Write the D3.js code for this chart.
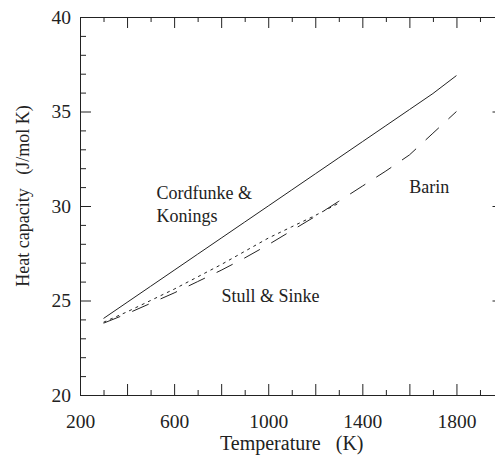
<!DOCTYPE html>
<html>
<head>
<meta charset="utf-8">
<script src="https://cdn.jsdelivr.net/npm/d3@7"></script>
<style>
  body { margin: 0; background: #fff; }
  .line { fill: none; stroke: #222; stroke-width: 1; }
  .axis path, .axis line { stroke: #222; stroke-width: 1; }
</style>
</head>
<body>
<div id="chartContainer"></div>
<script>
var width = 495;
var height = 463;
var serif = '"Liberation Serif", "Times New Roman", Times, "DejaVu Serif", serif';

// heat capacity (J/mol K) vs temperature (K)
var temps = [300, 400, 500, 600, 700, 800, 900, 1000, 1100, 1200, 1300, 1400, 1500, 1600, 1700, 1800];
var cordfunke = [24.05, 24.9, 25.75, 26.6, 27.45, 28.3, 29.15, 30.0, 30.85, 31.7, 32.55, 33.4, 34.25, 35.1, 35.95, 36.9];
var barin = [23.8, 24.3, 24.85, 25.4, 26.0, 26.6, 27.25, 27.95, 28.7, 29.45, 30.25, 31.05, 31.85, 32.7, 33.85, 35.0];
var stullTemps = [300, 400, 500, 600, 700, 800, 900, 1000, 1100, 1200, 1300];
var stull = [23.85, 24.4, 25.0, 25.6, 26.25, 26.9, 27.6, 28.3, 28.9, 29.5, 30.15];

var xTicks = d3.range(200, 2001, 100);
var yTicks = d3.range(20, 40.5, 1);

var svg = d3.select('#chartContainer')
    .append('svg')
    .attr("width", width)
    .attr("height", height)
    .attr("font-family", serif);

// plot box runs a bit past the right edge of the picture
var xScale = d3.scaleLinear().domain([200, 2000]).range([80, 503.5]);
var yScale = d3.scaleLinear().domain([20, 40]).range([395, 17]);

function isMajorX(t) { return t % 200 == 0; }
function isMajorY(v) { return v % 5 == 0; }

/*** axes, ticks point into the box ***/
var xAxisBottom = d3.axisBottom(xScale).tickValues(xTicks).tickSizeInner(-11).tickSizeOuter(0).tickPadding(19)
    .tickFormat(function(d) { return (d - 200) % 400 == 0 && d < 2000 ? d : ""; });
var xAxisTop = d3.axisTop(xScale).tickValues(xTicks).tickSizeInner(-11).tickSizeOuter(0).tickFormat("");
var yAxisLeft = d3.axisLeft(yScale).tickValues(yTicks).tickSizeInner(-11).tickSizeOuter(0).tickPadding(9)
    .tickFormat(function(d) { return isMajorY(d) ? d : ""; });
var yAxisRight = d3.axisRight(yScale).tickValues(yTicks).tickSizeInner(-11).tickSizeOuter(0).tickFormat("");

var gBottom = svg.append('g').attr('class', 'axis').attr("transform", "translate(0," + yScale(20) + ")").call(xAxisBottom);
var gTop = svg.append('g').attr('class', 'axis').attr("transform", "translate(0," + yScale(40) + ")").call(xAxisTop);
var gLeft = svg.append('g').attr('class', 'axis').attr("transform", "translate(" + xScale(200) + ",0)").call(yAxisLeft);
var gRight = svg.append('g').attr('class', 'axis').attr("transform", "translate(" + xScale(2000) + ",0)").call(yAxisRight);

// d3 axis sets its own font, put the serif one back
svg.selectAll('.axis').attr('font-family', serif).attr('font-size', 19.5);
svg.selectAll('.axis text').attr('fill', '#222');

// shorten the minor ticks
gBottom.selectAll('.tick line').attr('y2', function(d) { return isMajorX(d) ? -11 : -5; });
gTop.selectAll('.tick line').attr('y2', function(d) { return isMajorX(d) ? 11 : 5; });
gLeft.selectAll('.tick line').attr('x2', function(d) { return isMajorY(d) ? 11 : 6; });
gRight.selectAll('.tick line').attr('x2', function(d) { return isMajorY(d) ? -11 : -6; });

/*** curves ***/
var lineFunc = d3.line()
    .x(function(d) { return xScale(d[0]); })
    .y(function(d) { return yScale(d[1]); });

var g = svg.append('g').classed('curves', true);
g.append('path').attr('class', 'line').attr('d', lineFunc(d3.zip(temps, cordfunke)));
g.append('path').attr('class', 'line').attr('d', lineFunc(d3.zip(temps, barin)))
    .attr('stroke-dasharray', '18,13');
g.append('path').attr('class', 'line').attr('d', lineFunc(d3.zip(stullTemps, stull)))
    .attr('stroke-dasharray', '3,4');

/*** labels on the curves ***/
var notes = svg.append('g').attr('font-size', 18).attr('fill', '#222');
notes.append('text').attr('x', xScale(525)).attr('y', yScale(30.37)).text('Cordfunke &');
notes.append('text').attr('x', xScale(525)).attr('y', yScale(29.15)).text('Konings');
notes.append('text').attr('x', xScale(1599)).attr('y', yScale(30.69)).text('Barin');
notes.append('text').attr('x', xScale(801)).attr('y', yScale(24.92)).text('Stull & Sinke');

/*** axis titles ***/
svg.append('text')
    .attr('x', (xScale(200) + xScale(2000)) / 2)
    .attr('y', 450)
    .attr('text-anchor', 'middle')
    .attr('font-size', 20)
    .attr('fill', '#222')
    .style('white-space', 'pre')
    .text('Temperature   (K)');

svg.append('text')
    .attr('transform', 'translate(29,' + ((yScale(20) + yScale(40)) / 2 - 10) + ') rotate(-90)')
    .attr('text-anchor', 'middle')
    .attr('font-size', 18)
    .attr('fill', '#222')
    .style('white-space', 'pre')
    .text('Heat capacity   (J/mol K)');
</script>
</body>
</html>
